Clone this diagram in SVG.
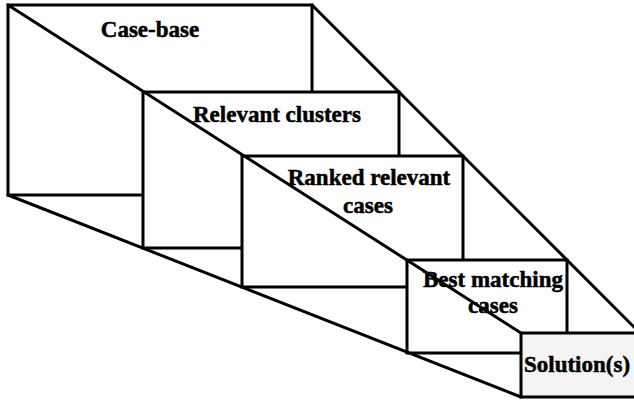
<svg xmlns="http://www.w3.org/2000/svg" width="634" height="400" viewBox="0 0 634 400">
  <style>
    .box { fill: #ffffff; stroke: #000000; stroke-width: 3; stroke-linejoin: miter; }
    .box.final { fill: #f4f4f4; }
    .label { font-family: "Liberation Serif", "Times New Roman", serif; font-weight: bold; font-size: 23px; fill: #000000; stroke: #000000; stroke-width: 0.5; text-anchor: middle; }
    .edge { stroke: #000000; stroke-width: 3; stroke-linecap: round; fill: none; }
  </style>
  <rect width="634" height="400" fill="#ffffff"/>

  <!-- stages, back to front -->
  <g id="case-base">
    <rect class="box" x="8" y="5" width="304" height="190"/>
    <text class="label" x="150" y="37">Case-base</text>
  </g>
  <g id="relevant-clusters">
    <rect class="box" x="143" y="92" width="256" height="156"/>
    <text class="label" x="277" y="122">Relevant clusters</text>
  </g>
  <g id="ranked-relevant-cases">
    <rect class="box" x="242" y="156" width="221" height="131"/>
    <text class="label" x="369" y="185">Ranked relevant</text>
    <text class="label" x="368" y="213">cases</text>
  </g>
  <g id="best-matching-cases">
    <rect class="box" x="407" y="260" width="160" height="93"/>
    <text class="label" x="493" y="287">Best matching</text>
    <text class="label" x="493" y="313">cases</text>
  </g>
  <g id="solutions">
    <rect class="box final" x="521" y="333" width="125" height="64"/>
    <text class="label" x="577" y="372">Solution(s)</text>
  </g>

  <!-- perspective edges joining the stage corners -->
  <g id="connectors">
    <line class="edge" x1="8" y1="5" x2="521" y2="333"/>
    <line class="edge" x1="312" y1="5" x2="640" y2="333"/>
    <line class="edge" x1="8" y1="195" x2="521" y2="397"/>
  </g>
</svg>
